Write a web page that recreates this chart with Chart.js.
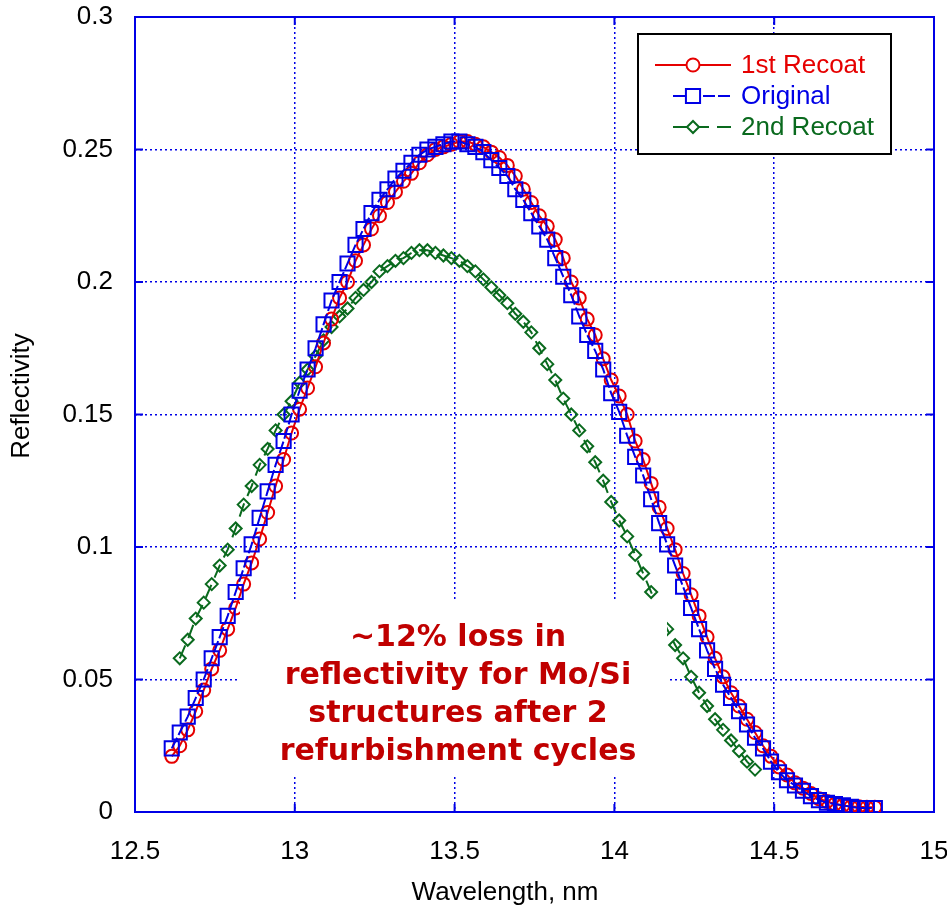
<!DOCTYPE html>
<html>
<head>
<meta charset="utf-8">
<script src="https://cdn.jsdelivr.net/npm/chart.js@4.4.0/dist/chart.umd.min.js"></script>
<style>
  html, body { margin: 0; padding: 0; background: #fff; }
</style>
</head>
<body>
<canvas id="myChart" width="947" height="909"></canvas>
<script>
// wavelength grid (nm) shared by the three measurements
const wavelength = [
  12.615, 12.64, 12.665, 12.69, 12.715, 12.74, 12.765, 12.79, 12.815, 12.84,
  12.865, 12.89, 12.915, 12.94, 12.965, 12.99, 13.015, 13.04, 13.065, 13.09,
  13.115, 13.14, 13.165, 13.19, 13.215, 13.24, 13.265, 13.29, 13.315, 13.34,
  13.365, 13.39, 13.415, 13.44, 13.465, 13.49, 13.515, 13.54, 13.565, 13.59,
  13.615, 13.64, 13.665, 13.69, 13.715, 13.74, 13.765, 13.79, 13.815, 13.84,
  13.865, 13.89, 13.915, 13.94, 13.965, 13.99, 14.015, 14.04, 14.065, 14.09,
  14.115, 14.14, 14.165, 14.19, 14.215, 14.24, 14.265, 14.29, 14.315, 14.34,
  14.365, 14.39, 14.415, 14.44, 14.465, 14.49, 14.515, 14.54, 14.565, 14.59,
  14.615, 14.64, 14.665, 14.69, 14.715, 14.74, 14.765, 14.79, 14.815, 14.84
];

const firstRecoat = [
  0.021, 0.025, 0.031, 0.038, 0.046, 0.054, 0.061, 0.069, 0.077, 0.086,
  0.094, 0.103, 0.113, 0.123, 0.133, 0.143, 0.152, 0.160, 0.168, 0.177,
  0.186, 0.194, 0.200, 0.208, 0.214, 0.220, 0.225, 0.230, 0.234, 0.238,
  0.241, 0.245, 0.248, 0.250, 0.251, 0.252, 0.253, 0.253, 0.252, 0.251,
  0.249, 0.247, 0.244, 0.240, 0.235, 0.230, 0.225, 0.221, 0.216, 0.209,
  0.200, 0.194, 0.186, 0.180, 0.171, 0.163, 0.157, 0.150, 0.140, 0.133,
  0.124, 0.115, 0.107, 0.099, 0.090, 0.082, 0.074, 0.066, 0.058, 0.051,
  0.045, 0.040, 0.035, 0.030, 0.025, 0.021, 0.017, 0.014, 0.011, 0.009,
  0.007, 0.005, 0.004, 0.003, 0.0025, 0.002, 0.002, 0.0018, 0.0018, null
];

const original = [
  0.024, 0.030, 0.036, 0.043, 0.050, 0.058, 0.066, 0.074, 0.083, 0.092,
  0.101, 0.111, 0.121, 0.131, 0.140, 0.150, 0.159, 0.167, 0.175, 0.184,
  0.193, 0.200, 0.207, 0.214, 0.220, 0.226, 0.231, 0.235, 0.239, 0.242,
  0.245, 0.248, 0.250, 0.251, 0.252, 0.253, 0.253, 0.252, 0.251, 0.249,
  0.246, 0.243, 0.240, 0.235, 0.231, 0.226, 0.221, 0.216, 0.209, 0.202,
  0.195, 0.187, 0.180, 0.174, 0.167, 0.158, 0.151, 0.142, 0.134, 0.127,
  0.118, 0.109, 0.101, 0.093, 0.085, 0.077, 0.069, 0.061, 0.054, 0.048,
  0.043, 0.038, 0.033, 0.028, 0.024, 0.019, 0.015, 0.012, 0.010, 0.008,
  0.006, 0.0045, 0.0035, 0.003, 0.0025, 0.002, 0.0015, 0.0015, 0.0015, null
];

const secondRecoat = [
  null, 0.058, 0.065, 0.073, 0.079, 0.086, 0.093, 0.099, 0.107, 0.116,
  0.123, 0.131, 0.137, 0.144, 0.150, 0.155, 0.162, 0.167, 0.172, 0.178,
  0.183, 0.187, 0.190, 0.194, 0.197, 0.200, 0.204, 0.206, 0.208, 0.209,
  0.211, 0.212, 0.212, 0.211, 0.210, 0.209, 0.208, 0.206, 0.204, 0.201,
  0.198, 0.195, 0.192, 0.188, 0.185, 0.181, 0.175, 0.169, 0.163, 0.156,
  0.150, 0.144, 0.138, 0.132, 0.125, 0.117, 0.110, 0.104, 0.097, 0.090,
  0.083, 0.076, 0.069, 0.063, 0.058, 0.051, 0.045, 0.040, 0.035, 0.031,
  0.027, 0.023, 0.019, 0.016, null, null, null, null, null, null,
  null, null, null, null, null, null, null, null, null, null
];

const seriesNames = ["1st Recoat", "Original", "2nd Recoat"];
const xTicks = [12.5, 13, 13.5, 14, 14.5, 15];
const yTicks = [0, 0.05, 0.1, 0.15, 0.2, 0.25, 0.3];
const xTitle = "Wavelength, nm";
const yTitle = "Reflectivity";
const noteLines = ["~12% loss in", "reflectivity for Mo/Si", "structures after 2", "refurbishment cycles"];

const blue = '#0000e6';
const red = '#e60000';
const green = '#0a6a1e';
const arial = 'Arial, "Liberation Sans", sans-serif';

function points(ys) {
    const out = [];
    wavelength.forEach((x, i) => {
        if (ys[i] !== null) out.push({ x: x, y: ys[i] });
    });
    return out;
}

// frame, inward ticks, note, legend and axis titles
const decor = {
    id: 'decor',
    beforeDatasetsDraw(chart) {
        const { ctx, chartArea: a, scales } = chart;
        ctx.save();
        ctx.strokeStyle = blue;
        ctx.lineWidth = 2;
        ctx.setLineDash([]);
        ctx.beginPath();
        xTicks.forEach(v => {
            const px = scales.x.getPixelForValue(v);
            ctx.moveTo(px, a.bottom); ctx.lineTo(px, a.bottom - 8);
            ctx.moveTo(px, a.top); ctx.lineTo(px, a.top + 8);
        });
        yTicks.forEach(v => {
            const py = scales.y.getPixelForValue(v);
            ctx.moveTo(a.left, py); ctx.lineTo(a.left + 8, py);
            ctx.moveTo(a.right, py); ctx.lineTo(a.right - 8, py);
        });
        ctx.stroke();
        ctx.strokeRect(a.left, a.top, a.right - a.left, a.bottom - a.top);
        ctx.restore();
    },
    afterDatasetsDraw(chart) {
        const ctx = chart.ctx;
        ctx.save();

        // note with white backing
        ctx.fillStyle = '#fff';
        ctx.fillRect(240, 600, 427, 177);
        ctx.fillStyle = '#c00000';
        ctx.font = 'bold 30px "DejaVu Sans", Verdana, sans-serif';
        ctx.textAlign = 'center';
        ctx.textBaseline = 'alphabetic';
        noteLines.forEach((t, i) => ctx.fillText(t, 458, 646 + i * 38));

        // legend box
        const lx = 638, ly = 34, lw = 253, lh = 120;
        ctx.fillStyle = '#fff';
        ctx.fillRect(lx, ly, lw, lh);
        ctx.strokeStyle = '#000';
        ctx.lineWidth = 2;
        ctx.strokeRect(lx, ly, lw, lh);
        chart.data.datasets.forEach((ds, i) => {
            const cy = ly + 31 + i * 31;
            ctx.strokeStyle = ds.borderColor;
            ctx.lineWidth = 2;
            ctx.setLineDash(ds.borderDash || []);
            ctx.beginPath();
            ctx.moveTo(i === 0 ? 655 : 673, cy);
            ctx.lineTo(731, cy);
            ctx.stroke();
            ctx.setLineDash([]);
            ctx.fillStyle = '#fff';
            Chart.helpers.drawPoint(ctx, { pointStyle: ds.pointStyle, radius: ds.pointRadius, borderWidth: 2 }, 693, cy);
            ctx.fillStyle = ds.borderColor;
            ctx.font = '26px ' + arial;
            ctx.textAlign = 'left';
            ctx.textBaseline = 'middle';
            ctx.fillText(ds.label, 741, cy + 1);
        });

        // axis titles
        ctx.fillStyle = '#000';
        ctx.textAlign = 'center';
        ctx.textBaseline = 'middle';
        ctx.font = '26px ' + arial;
        ctx.fillText(xTitle, 505, 893);
        ctx.translate(22, 396);
        ctx.rotate(-Math.PI / 2);
        ctx.font = '26px ' + arial;
        ctx.fillText(yTitle, 0, 0);
        ctx.restore();
    }
};

const ctx = document.getElementById('myChart').getContext('2d');
new Chart(ctx, {
    type: 'line',
    data: {
        datasets: [
            {
                label: seriesNames[0],
                data: points(firstRecoat),
                borderColor: red,
                backgroundColor: 'transparent',
                borderWidth: 2,
                pointStyle: 'circle',
                pointRadius: 6.5,
                pointBorderWidth: 2,
                pointBackgroundColor: 'transparent',
                pointBorderColor: red,
                order: 1
            },
            {
                label: seriesNames[1],
                data: points(original),
                borderColor: blue,
                backgroundColor: 'transparent',
                borderWidth: 2,
                borderDash: [12, 3],
                pointStyle: 'rect',
                pointRadius: 10,
                pointBorderWidth: 2,
                pointBackgroundColor: 'transparent',
                pointBorderColor: blue,
                order: 0
            },
            {
                label: seriesNames[2],
                data: points(secondRecoat),
                borderColor: green,
                backgroundColor: 'transparent',
                borderWidth: 2,
                borderDash: [14, 8],
                pointStyle: 'rectRot',
                pointRadius: 6,
                pointBorderWidth: 2,
                pointBackgroundColor: 'transparent',
                pointBorderColor: green,
                order: 2
            }
        ]
    },
    options: {
        responsive: false,
        animation: false,
        layout: { padding: { left: 0, right: 13, top: 17, bottom: 0 } },
        plugins: {
            legend: { display: false },
            tooltip: { enabled: false }
        },
        scales: {
            x: {
                type: 'linear',
                min: 12.5,
                max: 15,
                afterBuildTicks: s => { s.ticks = xTicks.map(v => ({ value: v })); },
                afterFit: s => { s.height = 97; s.paddingLeft = 0; s.paddingRight = 0; },
                grid: { color: blue, lineWidth: 1.5, drawTicks: false },
                border: { display: false, dash: [2, 3] },
                ticks: {
                    color: '#000',
                    font: { family: arial, size: 26 },
                    padding: 24,
                    maxRotation: 0,
                    callback: v => String(v)
                }
            },
            y: {
                min: 0,
                max: 0.3,
                afterBuildTicks: s => { s.ticks = yTicks.map(v => ({ value: v })); },
                afterFit: s => { s.width = 135; s.paddingTop = 0; s.paddingBottom = 0; },
                grid: { color: blue, lineWidth: 1.5, drawTicks: false },
                border: { display: false, dash: [2, 3] },
                ticks: {
                    color: '#000',
                    font: { family: arial, size: 26 },
                    padding: 22,
                    callback: v => String(v)
                }
            }
        }
    },
    plugins: [decor]
});
</script>
</body>
</html>
